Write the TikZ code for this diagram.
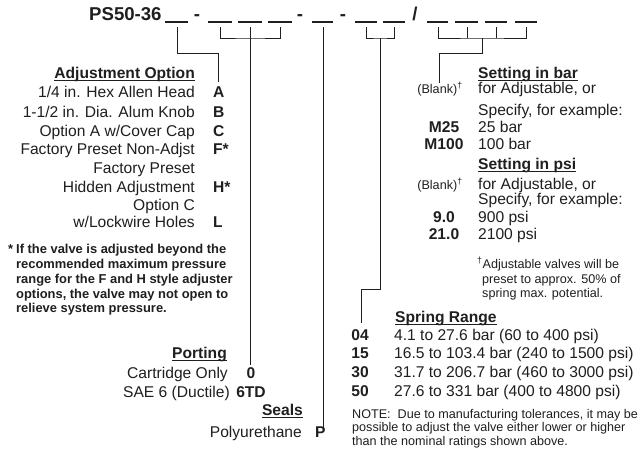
\documentclass[tikz,border=0pt]{standalone}
\usepackage{fontspec}
\setmainfont{Liberation Sans}
\newcommand\bodyf{\fontsize{15.6}{18}\selectfont}
\newcommand\smallf{\fontsize{12.6}{14}\selectfont}
\newcommand\footf{\fontsize{12.9}{14}\selectfont\bfseries}
\newcommand\titlef{\fontsize{18.6}{20}\selectfont\bfseries}
\newsavebox\ulbox
\newcommand\hul[1]{\sbox\ulbox{#1}\rlap{\rule[-2.6pt]{\wd\ulbox}{1.1pt}}\usebox\ulbox}
\definecolor{ink}{gray}{0.12}
\tikzset{
  txt/.style={inner sep=0pt, font=\bodyf, text=ink},
  lt/.style={txt, anchor=base east},
  rt/.style={txt, anchor=base west},
  ct/.style={txt, anchor=base},
  codetxt/.style={font=\bodyf\bfseries},
  sm/.style={font=\smallf},
  smb/.style={font=\footf},
  conn/.style={draw=ink, line width=1pt},
  blankline/.style={draw=ink, line width=1.3pt},
}
\begin{document}
\begin{tikzpicture}[x=1pt,y=-1pt]
\fill[white] (0,0) rectangle (642,461);
\useasboundingbox (0,0) rectangle (642,461);

% ---- title ----
\node[rt, font=\titlef] (title) at (89,20) {PS50-36};
\foreach \a/\b [count=\i] in {165/188,208/232,238/262,268/292,312/333,355/377,383/405,427/448,455/478,485/507,515/537}
  \draw[blankline] (\a,22) -- (\b,22);
\node[ct, font=\titlef] (s1) at (197,20) {-};
\node[ct, font=\titlef] (s2) at (300,20) {-};
\node[ct, font=\titlef] (s3) at (343,20) {-};
\node[ct, font=\titlef] (s4) at (415,20) {/};

% ---- blank coordinates ----
\coordinate (b1) at (177,27);
\coordinate (b2) at (220,27);
\coordinate (b3) at (250,27);
\coordinate (b4) at (280,27);
\coordinate (b5) at (323,27);
\coordinate (b6) at (366,27);
\coordinate (b7) at (394,27);
\coordinate (b8) at (438,27);
\coordinate (b9) at (467,27);
\coordinate (b10) at (496,27);
\coordinate (b11) at (526,27);
\coordinate (m2) at (250,38);
\coordinate (m6) at (380,38);
\coordinate (m8) at (482,38);
\coordinate (k1) at (218,53);
\coordinate (k6) at (380,289);
\coordinate (k8) at (482,53);
\coordinate (adjend) at (218,82);
\coordinate (portend) at (250,365);
\coordinate (sealend) at (323,432);
\coordinate (sprend) at (361,323);
\coordinate (setend) at (439,83);

% ---- connectors ----
\draw[conn] (b1) |- (k1) -- (adjend);
\draw[conn] (b2) |- (m2) -| (b4);
\draw[conn] (b3) -- (portend);
\draw[conn] (b5) -- (sealend);
\draw[conn] (b6) |- (m6) -| (b7);
\draw[conn] (m6) -- (k6) -| (sprend);
\draw[conn] (b8) |- (m8) -| (b11);
\draw[conn] (b9) -- (b9 |- m8);
\draw[conn] (b10) -- (b10 |- m8);
\draw[conn] (m8) -- (k8) -| (setend);

% ---- adjustment option ----
\node[lt, font=\bodyf\bfseries] (adjh) at (195,78) {\hul{Adjustment Option}};
\node[lt] (a1) at (195,97) {1/4 in. Hex Allen Head};
\node[rt, codetxt] (ca) at (213,97) {A};
\node[lt] (a2) at (195,117) {1-1/2 in. Dia. Alum Knob};
\node[rt, codetxt] (cb) at (213,117) {B};
\node[lt] (a3) at (195,136) {Option A w/Cover Cap};
\node[rt, codetxt] (cc) at (213,136) {C};
\node[lt] (a4) at (195,154) {Factory Preset Non-Adjst};
\node[rt, codetxt] (cf) at (213,154) {F*};
\node[lt] (a5) at (195,173) {Factory Preset};
\node[lt] (a6) at (195,192) {Hidden Adjustment};
\node[rt, codetxt] (ch) at (213,192) {H*};
\node[lt] (a7) at (195,210) {Option C};
\node[lt] (a8) at (195,227) {w/Lockwire Holes};
\node[rt, codetxt] (cl) at (213,227) {L};

% ---- footnote ----
\node[rt, smb] (fa) at (8,253) {*};
\node[rt, smb] (f1) at (16,253) {If the valve is adjusted beyond the};
\node[rt, smb] (f2) at (16,268) {recommended maximum pressure};
\node[rt, smb] (f3) at (16,283) {range for the F and H style adjuster};
\node[rt, smb] (f4) at (16,298) {options, the valve may not open to};
\node[rt, smb] (f5) at (16,312) {relieve system pressure.};

% ---- porting ----
\node[lt, font=\bodyf\bfseries] (porth) at (227,358) {\hul{Porting}};
\node[lt] (p1) at (228,378) {Cartridge Only};
\node[ct, codetxt] (c0) at (251,378) {0};
\node[lt] (p2) at (230,397) {SAE 6 (Ductile)};
\node[ct, codetxt] (c6) at (251,397) {6TD};

% ---- seals ----
\node[lt, font=\bodyf\bfseries] (sealh) at (303,415) {\hul{Seals}};
\node[lt] (sl) at (302,437) {Polyurethane};
\node[rt, codetxt] (cp) at (315,437) {P};

% ---- setting in bar ----
\node[rt, font=\bodyf\bfseries] (barh) at (478,78) {\hul{Setting in bar}};
\node[ct, sm] (bk1) at (440,93) {(Blank)\textsuperscript{†}};
\node[rt] (sb1) at (478,93) {for Adjustable, or};
\node[rt] (sb2) at (478,115) {Specify, for example:};
\node[ct, codetxt] (m25) at (444,132) {M25};
\node[rt] (sb3) at (478,132) {25 bar};
\node[ct, codetxt] (m100) at (444,149) {M100};
\node[rt] (sb4) at (478,149) {100 bar};

% ---- setting in psi ----
\node[rt, font=\bodyf\bfseries] (psih) at (478,169) {\hul{Setting in psi}};
\node[ct, sm] (bk2) at (440,189) {(Blank)\textsuperscript{†}};
\node[rt] (sp1) at (478,189) {for Adjustable, or};
\node[rt] (sp2) at (478,204) {Specify, for example:};
\node[ct, codetxt] (p9) at (444,222) {9.0};
\node[rt] (sp3) at (478,222) {900 psi};
\node[ct, codetxt] (p21) at (444,239) {21.0};
\node[rt] (sp4) at (478,239) {2100 psi};

\node[rt, sm] (d1) at (477,268) {\textsuperscript{†}Adjustable valves will be};
\node[rt, sm] (d2) at (482,283) {preset to approx. 50\% of};
\node[rt, sm] (d3) at (482,297) {spring max. potential.};

% ---- spring range ----
\node[rt, font=\bodyf\bfseries] (sprh) at (395,322) {\hul{Spring Range}};
\node[ct, codetxt] (r04) at (360,340) {04};
\node[rt] (t04) at (394,340) {4.1 to 27.6 bar (60 to 400 psi)};
\node[ct, codetxt] (r15) at (360,358) {15};
\node[rt] (t15) at (394,358) {16.5 to 103.4 bar (240 to 1500 psi)};
\node[ct, codetxt] (r30) at (360,377) {30};
\node[rt] (t30) at (394,377) {31.7 to 206.7 bar (460 to 3000 psi)};
\node[ct, codetxt] (r50) at (360,396) {50};
\node[rt] (t50) at (394,396) {27.6 to 331 bar (400 to 4800 psi)};

% ---- note ----
\node[rt, sm] (n1) at (352,418) {NOTE:\ \ Due to manufacturing tolerances, it may be};
\node[rt, sm] (n2) at (352,431) {possible to adjust the valve either lower or higher};
\node[rt, sm] (n3) at (352,445) {than the nominal ratings shown above.};
\end{tikzpicture}
\end{document}
